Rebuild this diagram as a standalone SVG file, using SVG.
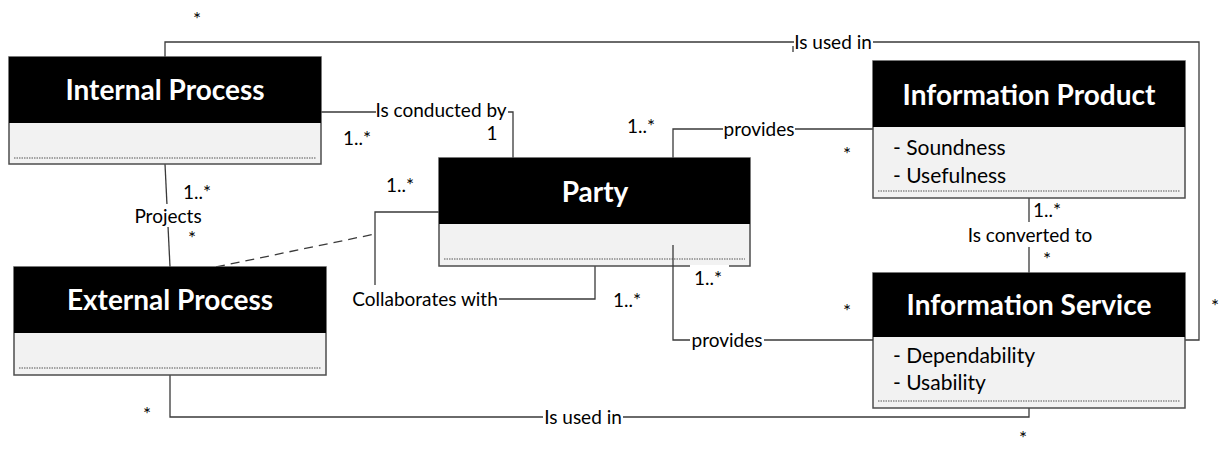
<svg xmlns="http://www.w3.org/2000/svg" width="1221" height="450" viewBox="0 0 1221 450">
  <style>
    .body { fill: #f2f2f2; stroke: #4d4d4d; stroke-width: 1.5; }
    .head { fill: #000000; }
    .dots { stroke: #555555; stroke-width: 1; stroke-dasharray: 1.5 1; fill: none; }
    .title { font-family: Lato, "Open Sans", sans-serif; font-weight: bold; font-size: 28px; fill: #ffffff; text-anchor: middle; }
    .attr { font-family: Lato, "Open Sans", sans-serif; font-size: 21px; fill: #000000; }
    .lbl { font-family: Lato, "Open Sans", sans-serif; font-size: 19px; fill: #000000; text-anchor: middle; }
    .conn { fill: none; stroke: #3a3a3a; stroke-width: 1.3; }
    .dash { stroke-dasharray: 9 6; }
    .bg { fill: #ffffff; }
  </style>

  <!-- associations -->
  <g id="connectors">
    <path class="conn" d="M165,57 V42 H1199 V340 H1185"/>
    <path class="conn" d="M321,112 H513 V158"/>
    <path class="conn" d="M673,158 V129 H873"/>
    <path class="conn" d="M1029,198 V273"/>
    <path class="conn" d="M439,212 H375 V299 H595 V266"/>
    <path class="conn dash" d="M216,267 L375,234"/>
    <path class="conn" d="M165,164 L170,267"/>
    <path class="conn" d="M170,375 V417 H1029 V408"/>

    <!-- association names -->
    <rect class="bg" x="794" y="33" width="79" height="18"/>
    <line class="conn" x1="793" y1="46" x2="793" y2="52"/>
    <text class="lbl" x="833" y="48.5">Is used in</text>
    <rect class="bg" x="376" y="103" width="132" height="17"/>
    <text class="lbl" x="441" y="116.5">Is conducted by</text>
    <rect class="bg" x="723" y="120" width="72" height="18"/>
    <text class="lbl" x="759" y="135.5">provides</text>
    <rect class="bg" x="965" y="222" width="130" height="25"/>
    <text class="lbl" x="1030" y="242">Is converted to</text>
    <rect class="bg" x="132" y="204" width="72" height="23"/>
    <text class="lbl" x="168" y="222.5">Projects</text>
    <rect class="bg" x="351" y="285" width="148" height="25"/>
    <text class="lbl" x="425" y="305.5">Collaborates with</text>
    <rect class="bg" x="543" y="408" width="80" height="18"/>
    <text class="lbl" x="583" y="423.5">Is used in</text>

    <!-- multiplicities -->
    <text class="lbl" x="197" y="26">*</text>
    <text class="lbl" x="357" y="145">1..*</text>
    <text class="lbl" x="492" y="140">1</text>
    <text class="lbl" x="400" y="192">1..*</text>
    <text class="lbl" x="641" y="133">1..*</text>
    <text class="lbl" x="847" y="161">*</text>
    <text class="lbl" x="1047" y="217">1..*</text>
    <text class="lbl" x="1047" y="266">*</text>
    <text class="lbl" x="627" y="307">1..*</text>
    <text class="lbl" x="847" y="318">*</text>
    <text class="lbl" x="1215" y="313">*</text>
    <text class="lbl" x="197" y="199">1..*</text>
    <text class="lbl" x="192" y="245">*</text>
    <text class="lbl" x="147" y="421">*</text>
    <text class="lbl" x="1023" y="445">*</text>
  </g>

  <g id="internal-process">
    <rect class="body" x="9" y="57" width="312" height="107"/>
    <rect class="head" x="9" y="57" width="312" height="66"/>
    <line class="dots" x1="14" y1="158" x2="316" y2="158"/>
    <text class="title" x="165" y="100">Internal Process</text>
  </g>

  <g id="external-process">
    <rect class="body" x="14" y="267" width="312" height="108"/>
    <rect class="head" x="14" y="267" width="312" height="66"/>
    <line class="dots" x1="19" y1="368" x2="321" y2="368"/>
    <text class="title" x="170" y="310">External Process</text>
  </g>

  <g id="party">
    <rect class="body" x="439" y="158" width="311" height="108"/>
    <rect class="head" x="439" y="158" width="311" height="66"/>
    <line class="dots" x1="444" y1="259" x2="745" y2="259"/>
    <text class="title" x="595" y="202">Party</text>
  </g>

  <g id="information-product">
    <rect class="body" x="873" y="61" width="312" height="137"/>
    <rect class="head" x="873" y="61" width="312" height="66"/>
    <line class="dots" x1="878" y1="191" x2="1180" y2="191"/>
    <text class="title" x="1029" y="105">Information Product</text>
    <text class="attr" x="893" y="155">- Soundness</text>
    <text class="attr" x="893" y="183">- Usefulness</text>
  </g>

  <g id="information-service">
    <rect class="body" x="873" y="273" width="312" height="135"/>
    <rect class="head" x="873" y="273" width="312" height="64"/>
    <line class="dots" x1="878" y1="401" x2="1180" y2="401"/>
    <text class="title" x="1029" y="315">Information Service</text>
    <text class="attr" x="893" y="363">- Dependability</text>
    <text class="attr" x="893" y="390">- Usability</text>
  </g>

  <!-- Party "provides" link starts inside the Party compartment -->
  <g id="party-provides">
    <path class="conn" d="M673,245 V340 H873"/>
    <rect class="bg" x="690" y="331" width="74" height="18"/>
    <text class="lbl" x="727" y="346.5">provides</text>
    <rect class="bg" x="690" y="265" width="39" height="24"/>
    <text class="lbl" x="708" y="285">1..*</text>
  </g>
</svg>
